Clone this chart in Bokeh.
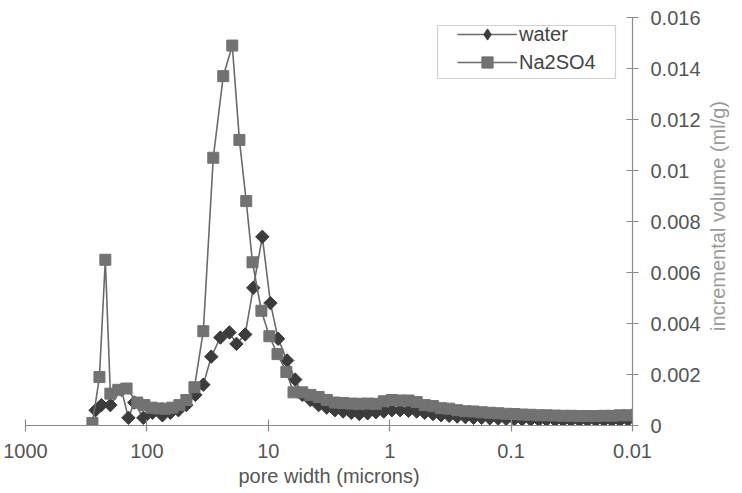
import math
from bokeh.plotting import figure
from bokeh.models import Range1d, FixedTicker, Legend, LegendItem, BoxAnnotation, LinearAxis
from bokeh.embed import file_html
from bokeh.resources import INLINE

# ---------------- data ----------------
water_x = [265, 237, 200, 162, 142, 127, 107, 90, 74.5, 64.1, 55, 47.3, 39.9, 34.3,
           29.5, 24.8, 20.9, 18.3, 15.5, 13.3, 11.2, 9.6, 8.3, 7.0, 6.0,
           5.25, 4.5, 3.85, 3.3, 2.83, 2.42, 2.07, 1.78, 1.52, 1.30,
           1.12, 0.96, 0.82, 0.70, 0.60, 0.515, 0.44, 0.378, 0.324, 0.278,
           0.238, 0.204, 0.175, 0.150, 0.128, 0.110, 0.094, 0.081, 0.069, 0.059,
           0.051, 0.0435, 0.0373, 0.032, 0.0274, 0.0235, 0.0201, 0.0172, 0.0148, 0.0127,
           0.0109, 0.0093]
water_y = [0.0006, 0.0008, 0.0008, 0.0014, 0.0003, 0.0009, 0.0003, 0.0005, 0.0004, 0.0005,
           0.0006, 0.0008, 0.0012, 0.0016, 0.0027, 0.00345, 0.00365, 0.0032, 0.00357, 0.0054,
           0.0074, 0.0048, 0.0034, 0.00255, 0.0018,
           0.0012, 0.001, 0.0008, 0.0007, 0.0006, 0.00055, 0.0005, 0.00045, 0.00048, 0.00052,
           0.00055, 0.0006, 0.0006, 0.00058, 0.00055, 0.0005, 0.00045, 0.0004, 0.00038, 0.00035,
           0.00033, 0.0003, 0.0003, 0.00028, 0.00027, 0.00026, 0.00025, 0.00024, 0.00023, 0.00022,
           0.00022, 0.00021, 0.0002, 0.0002, 0.0002, 0.0002, 0.0002, 0.0002, 0.0002, 0.0002,
           0.00022, 0.00025]

na_x = [281, 246, 220, 200, 172, 147, 120, 105, 91.8, 80.4, 70.4, 61.7, 54, 47.3, 40.6,
        34.3, 28.4, 23.5, 19.8, 17.3, 15.2, 13.5, 11.4, 9.8, 8.4, 7.1, 6.2,
        5.25, 4.5, 3.85, 3.3, 2.83, 2.42, 2.07, 1.78, 1.52, 1.30,
        1.12, 0.96, 0.82, 0.70, 0.60, 0.515, 0.44, 0.378, 0.324, 0.278,
        0.238, 0.204, 0.175, 0.150, 0.128, 0.110, 0.094, 0.081, 0.069, 0.059,
        0.051, 0.0435, 0.0373, 0.032, 0.0274, 0.0235, 0.0201, 0.0172, 0.0148, 0.0127,
        0.0109, 0.0093]
na_y = [0.0001, 0.0019, 0.0065, 0.00125, 0.0014, 0.00145, 0.0009, 0.0008, 0.0007, 0.00067,
        0.00066, 0.0007, 0.0008, 0.001, 0.0015, 0.0037, 0.0105, 0.0137, 0.0149, 0.0112,
        0.0088, 0.0064, 0.0045, 0.0035, 0.0028, 0.0021, 0.0013,
        0.0013, 0.0012, 0.00112, 0.001, 0.0009, 0.00088, 0.00086, 0.00085, 0.00086, 0.00085,
        0.00095, 0.001, 0.00098, 0.00098, 0.00092, 0.0008, 0.00076, 0.00068, 0.00066, 0.0006,
        0.00056, 0.00055, 0.00052, 0.0005, 0.00048, 0.00046, 0.00045, 0.00043, 0.00042, 0.0004,
        0.0004, 0.00039, 0.00038, 0.00038, 0.00037, 0.00037, 0.00037, 0.00038, 0.00038, 0.0004,
        0.0004, 0.00042]

x_ticks = [1000, 100, 10, 1, 0.1, 0.01]
x_tick_labels = ["1000", "100", "10", "1", "0.1", "0.01"]
y_ticks = [0, 0.002, 0.004, 0.006, 0.008, 0.01, 0.012, 0.014, 0.016]
y_tick_labels = ["0", "0.002", "0.004", "0.006", "0.008", "0.01", "0.012", "0.014", "0.016"]

series_names = ["water", "Na2SO4"]
x_title = "pore width (microns)"
y_title = "incremental volume (ml/g)"

# ---------------- figure ----------------
FONT = "Liberation Sans"
AXIS_COLOR = "#8a8a8a"
TEXT_COLOR = "#555555"

p = figure(width=742, height=493, x_axis_type="log",
           x_range=Range1d(1000, 0.01), y_range=Range1d(0, 0.016),
           y_axis_location="right", output_backend="svg", toolbar_location=None,
           min_border_left=25, min_border_right=109, min_border_top=17, min_border_bottom=68)
p.outline_line_color = None
p.xgrid.visible = False
p.ygrid.visible = False
p.background_fill_color = "white"
p.border_fill_color = "white"

for ax in (p.xaxis[0], p.yaxis[0]):
    ax.axis_line_color = AXIS_COLOR
    ax.axis_line_width = 1.2
    ax.major_tick_line_color = AXIS_COLOR
    ax.major_tick_line_width = 1.2
    ax.major_tick_in = 6
    ax.major_tick_out = 6
    ax.minor_tick_line_color = None
    ax.major_label_text_font = FONT
    ax.major_label_text_font_size = "20px"
    ax.major_label_text_color = TEXT_COLOR
    ax.axis_label_text_font = FONT
    ax.axis_label_text_font_size = "20px"
    ax.axis_label_text_font_style = "normal"

xax = p.xaxis[0]
xax.ticker = FixedTicker(ticks=x_ticks, minor_ticks=[])
xax.major_label_overrides = {t: l for t, l in zip(x_ticks, x_tick_labels)}
xax.major_label_standoff = 12
xax.axis_label = x_title
xax.axis_label_standoff = 4
xax.axis_label_text_color = TEXT_COLOR

yax = p.yaxis[0]
yax.ticker = FixedTicker(ticks=y_ticks, minor_ticks=[])
yax.major_label_overrides = {t: l for t, l in zip(y_ticks, y_tick_labels)}
yax.major_label_standoff = 12

# second (label-only) axis on the right, carrying the rotated y title.
# The label is anchored at the bottom of the axis and reads upwards; leading
# no-break spaces lift it to the height it has in the reference.
title_axis = LinearAxis(ticker=FixedTicker(ticks=[], minor_ticks=[]),
                        axis_line_color=None, major_tick_line_color=None,
                        minor_tick_line_color=None, major_label_text_font_size="0px",
                        axis_label="\u00a0" * 17 + y_title, axis_label_standoff=14,
                        axis_label_align="start",
                        axis_label_text_font=FONT, axis_label_text_font_size="20px",
                        axis_label_text_font_style="normal",
                        axis_label_text_color="#9a9a9a")
if "axis_label_orientation" in title_axis.properties():
    title_axis.axis_label_orientation = math.pi / 2
p.add_layout(title_axis, "right")

LINE_COLOR = "#6a6a6a"
WATER_COLOR = "#3c3c3c"
NA_COLOR = "#727272"
wl = p.line(water_x, water_y, line_color=LINE_COLOR, line_width=1.6)
# diamond glyph (used for the legend key), hidden under the rotated squares below
wd = p.scatter(water_x, water_y, marker="diamond", size=12,
               fill_color=WATER_COLOR, line_color=WATER_COLOR)
ws = p.scatter(water_x, water_y, marker="square", angle=math.pi / 4, size=9.5,
               fill_color=WATER_COLOR, line_color=WATER_COLOR)
nl = p.line(na_x, na_y, line_color=LINE_COLOR, line_width=1.6)
ns = p.scatter(na_x, na_y, marker="square", size=11,
               fill_color=NA_COLOR, line_color=NA_COLOR)

# legend box
p.add_layout(BoxAnnotation(left=412, right=590, top=400, bottom=347,
                           left_units="screen", right_units="screen",
                           top_units="screen", bottom_units="screen",
                           fill_color="white", fill_alpha=1.0,
                           line_color="#666666", line_width=1.2))

legend = Legend(items=[LegendItem(label=series_names[0], renderers=[wl, wd]),
                       LegendItem(label=series_names[1], renderers=[nl, ns])],
                location=(432, 349), padding=0, spacing=-4, margin=0,
                glyph_width=60, glyph_height=28, label_height=28, label_standoff=2,
                border_line_color=None, background_fill_alpha=0,
                label_text_font=FONT, label_text_font_size="20px",
                label_text_color="#444444")
p.add_layout(legend)

open("out.html", "w").write(file_html(p, INLINE))
